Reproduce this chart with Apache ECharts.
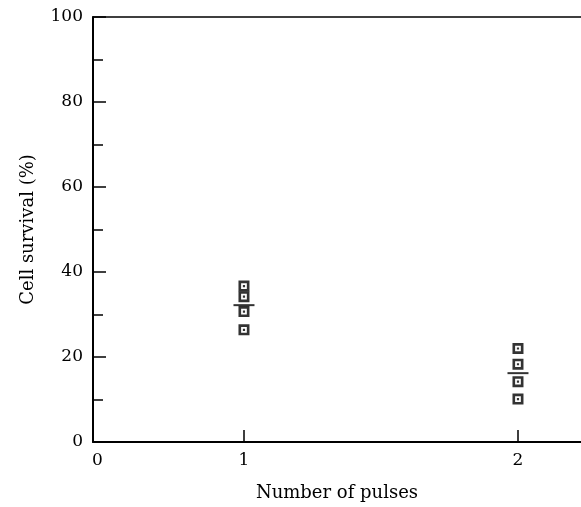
<!DOCTYPE html>
<html>
<head>
<meta charset="utf-8">
<script src="https://cdn.jsdelivr.net/npm/echarts@6/dist/echarts.min.js"></script>
<style>
  html, body { margin: 0; padding: 0; background: #fff; }
  #chart { width: 581px; height: 507px; }
</style>
</head>
<body>
<div id="chart"></div>
<script>
  // pulses and the survival of each sample
  const pulses = [1, 2];
  const survivalOnePulse = [36.7, 34.2, 30.7, 26.4];
  const survivalTwoPulses = [22.0, 18.3, 14.2, 10.1];
  const meanSurvival = [32.2, 16.2];
  const xTickValues = [1, 2];

  // the origin of the x scale is drawn closer than the 1-2 spacing
  const xMin = 0.449;
  const xMax = 2.23;
  const font = 'DejaVu Serif';
  const ink = '#000';

  // hollow square with a dot in the middle
  const boxSymbol = 'path://M0,0H10V10H0Z M2.4,2.4V7.6H7.6V2.4Z M4,4H6V6H4Z';

  const points = [
    ...survivalOnePulse.map((v) => [pulses[0], v]),
    ...survivalTwoPulses.map((v) => [pulses[1], v]),
  ];
  const means = meanSurvival.map((v, i) => [pulses[i], v]);

  const chart = echarts.init(document.getElementById('chart'), null, {renderer: 'canvas'});
  chart.setOption({
    animation: false,
    grid: {left: 93, right: 0, top: 17, bottom: 65, outerBoundsMode: 'none', containLabel: false},
    xAxis: [{
      type: 'value',
      min: xMin,
      max: xMax,
      name: 'Number of pulses',
      nameLocation: 'middle',
      nameGap: 42,
      nameTextStyle: {fontFamily: font, fontSize: 18, color: ink},
      axisLine: {onZero: false, lineStyle: {color: ink, width: 2}},
      axisTick: {inside: true, length: 12, customValues: xTickValues, lineStyle: {color: ink, width: 1.5}},
      axisLabel: {
        customValues: [xMin, ...xTickValues],
        formatter: (v) => (v < 0.5 ? '{o|0}' : String(v)),
        rich: {o: {fontFamily: font, fontSize: 17, color: ink, padding: [0, 0, 0, 9]}},
        fontFamily: font, fontSize: 17, color: ink, margin: 10,
      },
      splitLine: {show: false},
    }, {
      type: 'value',
      position: 'top',
      min: xMin,
      max: xMax,
      axisLine: {onZero: false, lineStyle: {color: ink, width: 1.5}},
      axisTick: {show: false},
      axisLabel: {show: false},
      splitLine: {show: false},
    }],
    yAxis: [{
      type: 'value',
      min: 0,
      max: 100,
      interval: 20,
      name: 'Cell survival (%)',
      nameLocation: 'middle',
      nameGap: 56,
      nameRotate: 90,
      nameTextStyle: {fontFamily: font, fontSize: 18, color: ink},
      axisLine: {show: true, onZero: false, lineStyle: {color: ink, width: 2}},
      axisTick: {inside: true, length: 13, lineStyle: {color: ink, width: 1.5}},
      axisLabel: {fontFamily: font, fontSize: 17, color: ink, margin: 10},
      splitLine: {show: false},
    }, {
      // in-between ticks, every 10 %
      type: 'value',
      position: 'left',
      min: 0,
      max: 100,
      interval: 10,
      axisLine: {show: false, onZero: false},
      axisTick: {show: true, inside: true, length: 10, lineStyle: {color: ink, width: 1.5}},
      axisLabel: {show: false},
      splitLine: {show: false},
    }],
    series: [{
      type: 'scatter',
      data: points,
      symbol: boxSymbol,
      symbolSize: 11,
      itemStyle: {color: ink},
    }, {
      type: 'scatter',
      data: means,
      symbol: 'rect',
      symbolSize: [21, 2],
      itemStyle: {color: ink},
      z: 3,
    }],
  });
</script>
</body>
</html>
